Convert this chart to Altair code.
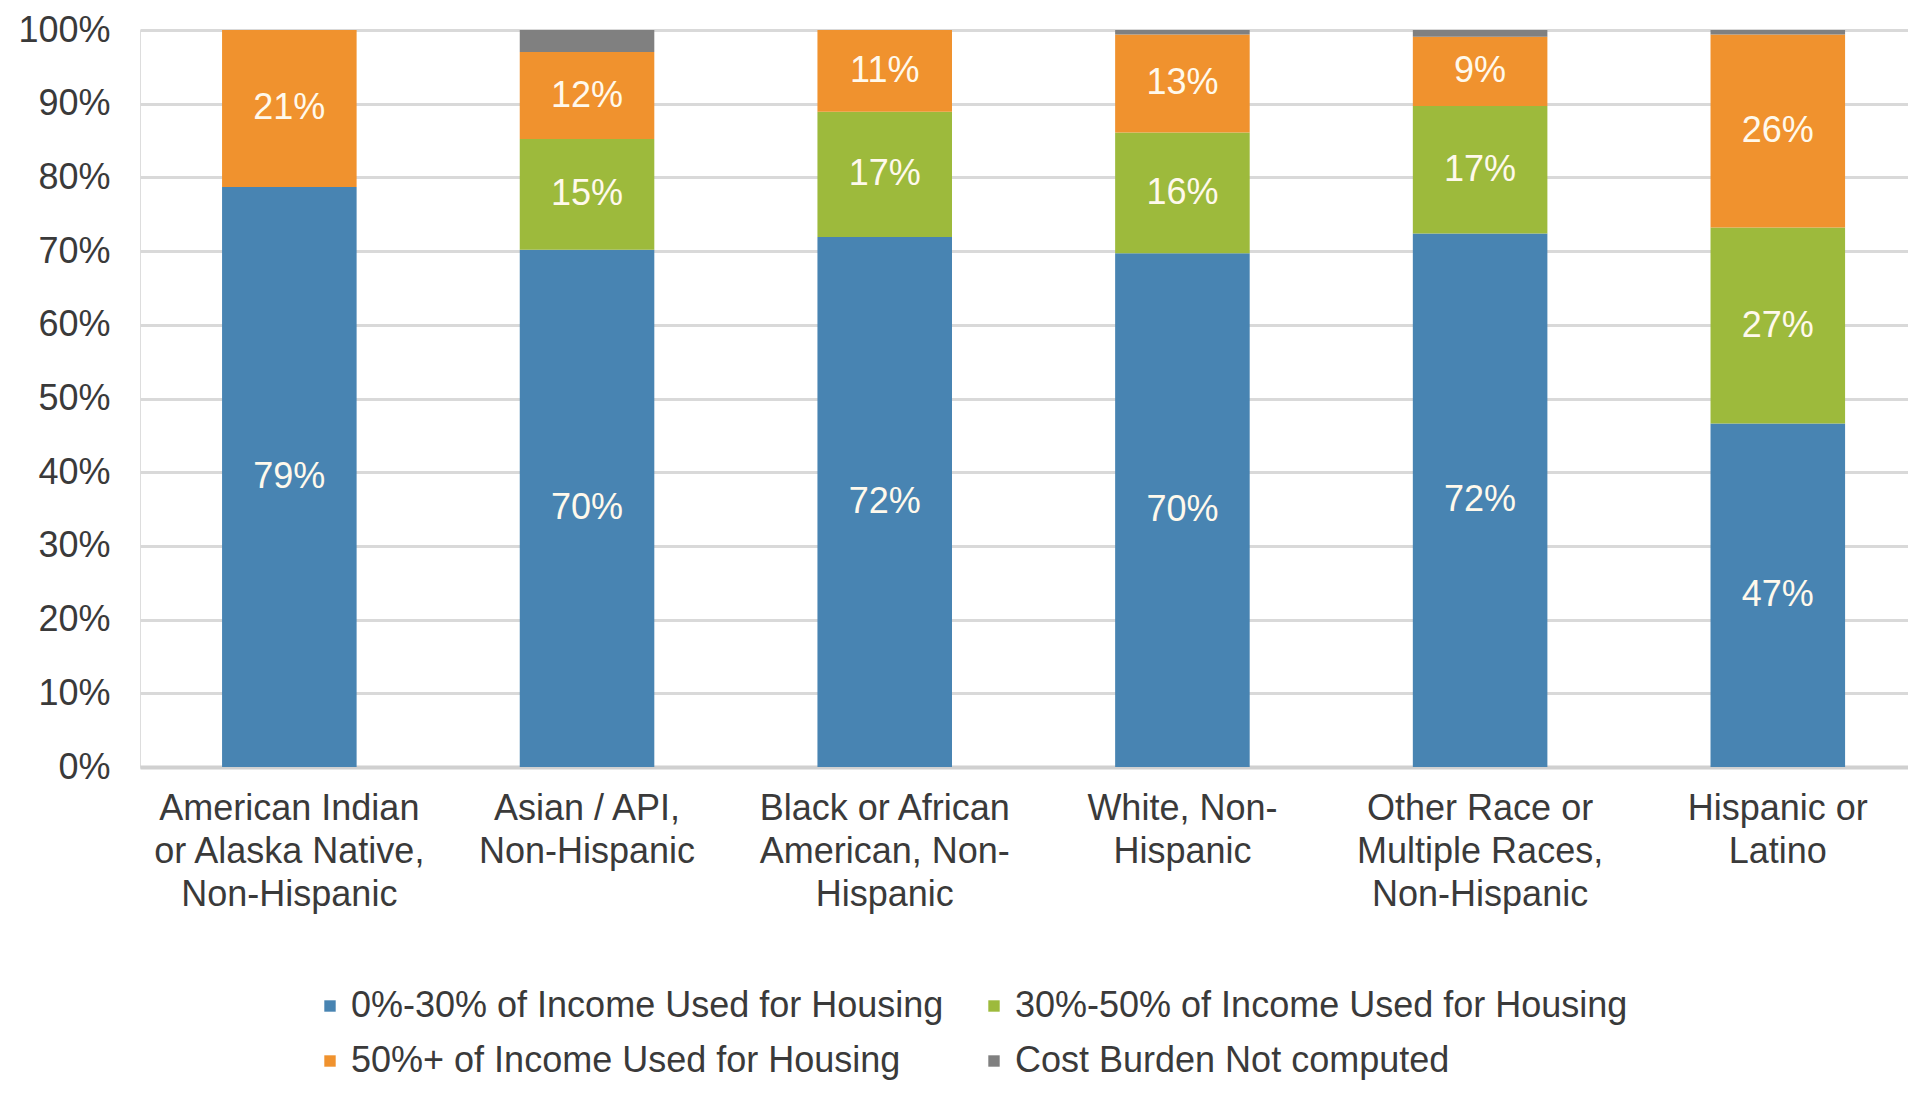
import altair as alt
import pandas as pd

categories = [
    "American Indian\nor Alaska Native,\nNon-Hispanic",
    "Asian / API,\nNon-Hispanic",
    "Black or African\nAmerican, Non-\nHispanic",
    "White, Non-\nHispanic",
    "Other Race or\nMultiple Races,\nNon-Hispanic",
    "Hispanic or\nLatino",
]
series = [
    "0%-30% of Income Used for Housing",
    "30%-50% of Income Used for Housing",
    "50%+ of Income Used for Housing",
    "Cost Burden Not computed",
]
share_0_30 = [78.7, 70.2, 71.9, 69.7, 72.4, 46.6]
share_30_50 = [0.0, 15.0, 17.0, 16.4, 17.3, 26.6]
share_50_plus = [21.3, 11.8, 11.1, 13.3, 9.4, 26.2]
share_not_computed = [0.0, 3.0, 0.0, 0.6, 0.9, 0.6]
colors = ["#4884B2", "#9DBA3C", "#F0922E", "#808080"]
y_ticks = [0, 10, 20, 30, 40, 50, 60, 70, 80, 90, 100]

rows = []
for s_idx, (name, vals) in enumerate(zip(series, [share_0_30, share_30_50, share_50_plus, share_not_computed])):
    for c, v in zip(categories, vals):
        rows.append({"category": c, "series": name, "order": s_idx, "value": v,
                     "label": f"{round(v)}%" if (v > 0 and s_idx < 3) else ""})
df = pd.DataFrame(rows)

FONT = "Liberation Sans"

x_enc = alt.X(
    "category:N",
    sort=categories,
    scale=alt.Scale(paddingInner=0.548, paddingOuter=0.2435, align=0.566),
    axis=alt.Axis(
        title=None, labelAngle=0, labelExpr="split(datum.label, '\\n')",
        labelFont=FONT, labelFontSize=36, labelColor="#3a3a3a", labelLineHeight=43,
        labelPadding=24, labelLimit=1000, ticks=False, domain=True, domainColor="#D0D0D0",
        domainWidth=4, grid=False, labelBaseline="top",
    ),
)

base = alt.Chart(df).transform_stack(
    stack="value", groupby=["category"], as_=["y0", "y1"],
    sort=[alt.SortField("order", order="ascending")],
).transform_calculate(mid="(datum.y0 + datum.y1) / 2")

bars = base.mark_bar().encode(
    x=x_enc,
    y=alt.Y(
        "y0:Q",
        scale=alt.Scale(domain=[0, 100], nice=False),
        axis=alt.Axis(
            title=None, values=y_ticks, labelExpr="datum.value + '%'",
            labelFont=FONT, labelFontSize=36, labelColor="#3a3a3a", labelPadding=30,
            ticks=False, domain=False, grid=True, gridColor="#D9D9D9", gridWidth=3,
        ),
    ),
    y2="y1:Q",
    color=alt.Color(
        "series:N",
        scale=alt.Scale(domain=series, range=colors),
        legend=alt.Legend(
            title=None, orient="none", legendX=172, legendY=958, columns=2,
            direction="horizontal", symbolType="square", symbolSize=130,
            symbolStrokeWidth=0, labelFont=FONT, labelFontSize=36, labelColor="#3a3a3a",
            labelOffset=3, columnPadding=32, rowPadding=19, labelLimit=1000,
        ),
    ),
)

texts = base.transform_filter("datum.label != ''").mark_text(
    font=FONT, fontSize=36, color="#FFF9EC", baseline="middle", align="center"
).encode(
    x=alt.X("category:N", sort=categories),
    y=alt.Y("mid:Q"),
    text="label:N",
)

chart = alt.layer(bars, texts).properties(
    width=1768, height=737,
    autosize=alt.AutoSizeParams(type="none"),
    padding={"left": 132, "top": 22, "right": 0, "bottom": 319},
).configure_view(stroke=None).configure(background="white")

chart.save("out.html", embed_options={"renderer": "svg", "actions": False})
